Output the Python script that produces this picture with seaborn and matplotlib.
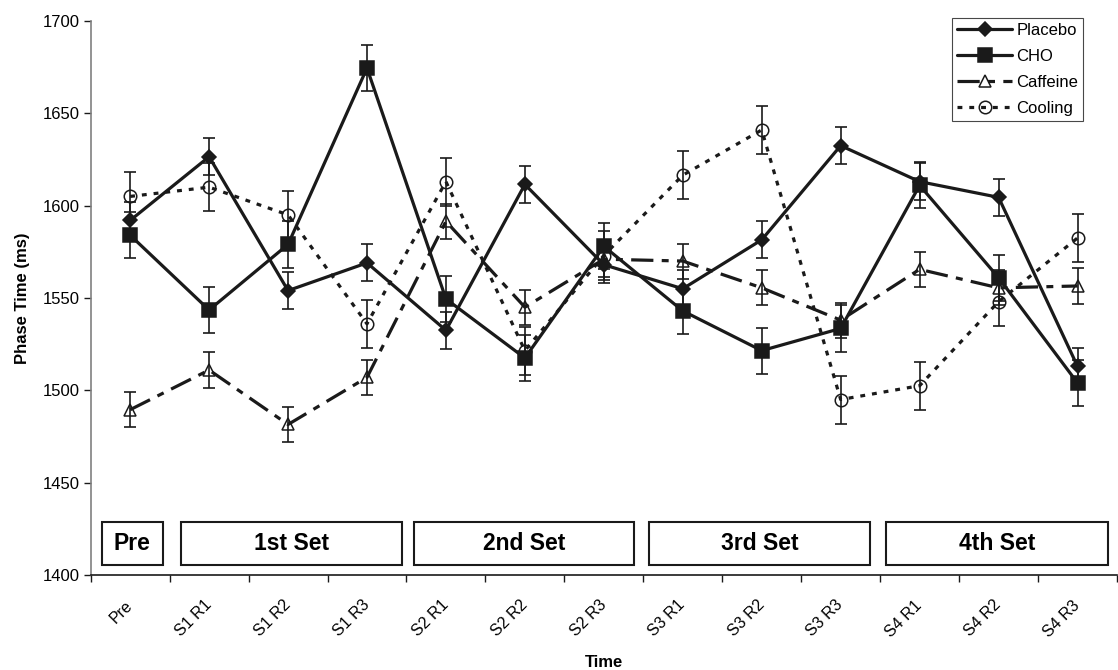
import numpy as np
import matplotlib
matplotlib.use("Agg")
import matplotlib.pyplot as plt
import seaborn as sns
from matplotlib.lines import Line2D
from matplotlib.patches import Rectangle

# Sampling points across the protocol
time_points = ["Pre", "S1 R1", "S1 R2", "S1 R3", "S2 R1", "S2 R2", "S2 R3",
               "S3 R1", "S3 R2", "S3 R3", "S4 R1", "S4 R2", "S4 R3"]

# Mean phase time (ms) per condition
placebo = [1592, 1626.5, 1554, 1569, 1532.5, 1611.5, 1568,
           1555, 1581.5, 1632.5, 1613, 1604.5, 1513]
cho = [1584, 1543.5, 1579, 1674.5, 1549.5, 1517.5, 1578,
       1543, 1521.5, 1533.5, 1611, 1561, 1504]
caffeine = [1489.5, 1511, 1481.5, 1507, 1591.5, 1545, 1571,
            1570, 1555.5, 1538, 1565.5, 1555.5, 1556.5]
cooling = [1605, 1610, 1595, 1536, 1613, 1521.5, 1573,
           1616.5, 1641, 1495, 1502.5, 1548, 1582.5]

# Standard errors (ms)
placebo_se = [10, 10, 10, 10, 10, 10, 10, 10, 10, 10, 10, 10, 10]
cho_se = [12.5, 12.5, 12.5, 12.5, 12.5, 12.5, 12.5, 12.5, 12.5, 12.5, 12.5, 12.5, 12.5]
caffeine_se = [9.5, 9.5, 9.5, 9.5, 9.5, 9.5, 9.5, 9.5, 9.5, 9.5, 9.5, 9.5, 9.5]
cooling_se = [13, 13, 13, 13, 13, 13, 13, 13, 13, 13, 13, 13, 13]

conditions = ["Placebo", "CHO", "Caffeine", "Cooling"]
set_labels = ["Pre", "1st Set", "2nd Set", "3rd Set", "4th Set"]

sns.set_theme(style="white")
plt.rcParams["font.family"] = ["Liberation Sans", "DejaVu Sans"]
plt.rcParams["lines.scale_dashes"] = False
for key in ("text.color", "axes.labelcolor", "xtick.color", "ytick.color",
            "axes.edgecolor"):
    plt.rcParams[key] = "black"

fig = plt.figure(figsize=(11.18, 6.70), dpi=100)
ax = fig.add_axes([0.0811, 0.1418, 0.918, 0.8269])

styles = {
    "Placebo": dict(marker="D", ms=7.5, mfc="k", ls="-"),
    "CHO": dict(marker="s", ms=9.5, mfc="k", ls="-"),
    "Caffeine": dict(marker="^", ms=9, mfc="none", ls=(0, (16, 6, 5, 6))),
    "Cooling": dict(marker="o", ms=9, mfc="none", ls=(0, (3.5, 5))),
}
series = {"Placebo": (placebo, placebo_se), "CHO": (cho, cho_se),
          "Caffeine": (caffeine, caffeine_se), "Cooling": (cooling, cooling_se)}

LW = 2.3
for name in conditions:
    vals, se = series[name]
    st = styles[name]
    sns.lineplot(x=time_points, y=vals, ax=ax, sort=False, errorbar=None,
                 color="k", linewidth=LW, linestyle=st["ls"],
                 marker=st["marker"], markersize=st["ms"],
                 markerfacecolor=st["mfc"], markeredgecolor="k",
                 markeredgewidth=1.1, legend=False, zorder=4)
    ax.errorbar(np.arange(len(time_points)), vals, yerr=se, fmt="none",
                ecolor="k", elinewidth=1.2, capsize=4.5, capthick=1.2, zorder=3)

# Set-grouping boxes along the bottom of the plot
spans = [(-0.36, 0.415), (0.64, 3.44), (3.59, 6.38), (6.57, 9.37), (9.57, 12.39)]
for label, (x0, x1) in zip(set_labels, spans):
    ax.add_patch(Rectangle((x0, 1405.5), x1 - x0, 23, facecolor="white",
                           edgecolor="k", linewidth=1.5, zorder=5))
    ax.text((x0 + x1) / 2, 1417, label, ha="center", va="center",
            fontsize=16.5, fontweight="bold", zorder=6)

ax.set_xlim(-0.5, len(time_points) - 0.5)
ax.set_ylim(1400, 1700)
ax.set_yticks(np.arange(1400, 1701, 50))
ax.set_xticks(np.arange(len(time_points)))
ax.set_xticks(np.arange(-0.5, len(time_points), 1), minor=True)
ax.set_xticklabels(time_points, rotation=45, ha="right", va="center",
                   rotation_mode="anchor", fontsize=11.5)
ax.tick_params(axis="x", which="major", length=0, pad=20)
ax.tick_params(axis="x", which="minor", length=5, width=1, color="k",
               direction="out", bottom=True)
ax.tick_params(axis="y", which="major", length=5, width=1, color="k",
               direction="out", left=True, labelsize=12, pad=3)

for side in ("top", "right"):
    ax.spines[side].set_visible(False)
ax.spines["left"].set_color("#808080")
ax.spines["left"].set_linewidth(1.2)
ax.spines["bottom"].set_color("k")
ax.spines["bottom"].set_linewidth(1.2)
ax.grid(False)

ax.set_xlabel("Time", fontsize=12, fontweight="bold")
ax.set_ylabel("Phase Time (ms)", fontsize=12, fontweight="bold")
ax.xaxis.set_label_coords(0.5, -0.144)
ax.yaxis.set_label_coords(-0.059, 0.5)

handles = []
for name in conditions:
    st = styles[name]
    handles.append(Line2D([], [], color="k", linewidth=LW, linestyle=st["ls"],
                          marker=st["marker"], markersize=st["ms"],
                          markerfacecolor=st["mfc"], markeredgecolor="k",
                          markeredgewidth=1.1))
leg = ax.legend(handles, conditions, loc="upper left",
                bbox_to_anchor=(952 / 1118, 1 - 18 / 670),
                bbox_transform=fig.transFigure, frameon=True, fancybox=False,
                edgecolor="k", fontsize=12, handlelength=3.3,
                handletextpad=0.25, labelspacing=0.66, borderpad=0.3,
                borderaxespad=0)
leg.get_frame().set_linewidth(0.8)
leg.set_zorder(10)

fig.savefig("out.png", dpi=100, facecolor="white")
